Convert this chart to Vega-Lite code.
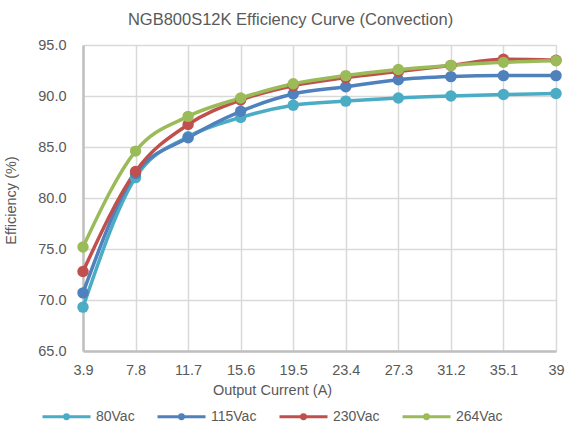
{
  "$schema": "https://vega.github.io/schema/vega-lite/v6.json",
  "autosize": {"type": "none"},
  "padding": {"left": 83, "top": 45, "right": 22, "bottom": 85},
  "width": 473,
  "height": 306,
  "background": "white",
  "title": {"text": "NGB800S12K Efficiency Curve (Convection)", "font": "Liberation Sans", "fontSize": 16.5, "fontWeight": "normal", "color": "#595959", "dx": -29, "offset": 9},
  "config": {"view": {"stroke": null}},
  "data": {"values": [
    {"I": 3.9, "E": 69.3, "V": "80Vac"}, {"I": 7.8, "E": 82.0, "V": "80Vac"}, {"I": 11.7, "E": 86.0, "V": "80Vac"}, {"I": 15.6, "E": 87.9, "V": "80Vac"}, {"I": 19.5, "E": 89.1, "V": "80Vac"}, {"I": 23.4, "E": 89.5, "V": "80Vac"}, {"I": 27.3, "E": 89.8, "V": "80Vac"}, {"I": 31.2, "E": 90.0, "V": "80Vac"}, {"I": 35.1, "E": 90.15, "V": "80Vac"}, {"I": 39, "E": 90.25, "V": "80Vac"},
    {"I": 3.9, "E": 70.7, "V": "115Vac"}, {"I": 7.8, "E": 82.4, "V": "115Vac"}, {"I": 11.7, "E": 85.9, "V": "115Vac"}, {"I": 15.6, "E": 88.5, "V": "115Vac"}, {"I": 19.5, "E": 90.2, "V": "115Vac"}, {"I": 23.4, "E": 90.9, "V": "115Vac"}, {"I": 27.3, "E": 91.6, "V": "115Vac"}, {"I": 31.2, "E": 91.9, "V": "115Vac"}, {"I": 35.1, "E": 92.0, "V": "115Vac"}, {"I": 39, "E": 92.0, "V": "115Vac"},
    {"I": 3.9, "E": 72.8, "V": "230Vac"}, {"I": 7.8, "E": 82.6, "V": "230Vac"}, {"I": 11.7, "E": 87.2, "V": "230Vac"}, {"I": 15.6, "E": 89.6, "V": "230Vac"}, {"I": 19.5, "E": 91.0, "V": "230Vac"}, {"I": 23.4, "E": 91.8, "V": "230Vac"}, {"I": 27.3, "E": 92.4, "V": "230Vac"}, {"I": 31.2, "E": 93.0, "V": "230Vac"}, {"I": 35.1, "E": 93.6, "V": "230Vac"}, {"I": 39, "E": 93.5, "V": "230Vac"},
    {"I": 3.9, "E": 75.2, "V": "264Vac"}, {"I": 7.8, "E": 84.6, "V": "264Vac"}, {"I": 11.7, "E": 88.0, "V": "264Vac"}, {"I": 15.6, "E": 89.8, "V": "264Vac"}, {"I": 19.5, "E": 91.2, "V": "264Vac"}, {"I": 23.4, "E": 92.0, "V": "264Vac"}, {"I": 27.3, "E": 92.6, "V": "264Vac"}, {"I": 31.2, "E": 93.0, "V": "264Vac"}, {"I": 35.1, "E": 93.3, "V": "264Vac"}, {"I": 39, "E": 93.45, "V": "264Vac"}
  ]},
  "encoding": {
    "x": {"field": "I", "type": "quantitative", "scale": {"domain": [3.9, 39], "nice": false, "zero": false},
      "axis": {"values": [3.9, 7.8, 11.7, 15.6, 19.5, 23.4, 27.3, 31.2, 35.1, 39], "labelExpr": "datum.value + ''", "title": "Output Current (A)",
        "labelFont": "Liberation Sans", "labelFontSize": 14.5, "labelColor": "#595959", "labelPadding": 12, "ticks": false,
        "titleFont": "Liberation Sans", "titleFontSize": 14.5, "titleFontWeight": "normal", "titleColor": "#595959", "titleX": 189, "titleY": 32, "titleBaseline": "top",
        "domainColor": "#bfbfbf", "domainWidth": 2.5, "gridColor": "#d9d9d9", "gridWidth": 1.5, "labelFlush": false}},
    "y": {"field": "E", "type": "quantitative", "scale": {"domain": [65, 95], "nice": false, "zero": false},
      "axis": {"values": [65, 70, 75, 80, 85, 90, 95], "format": ".1f", "title": "Efficiency (%)",
        "labelFont": "Liberation Sans", "labelFontSize": 14.5, "labelColor": "#595959", "labelPadding": 17, "ticks": false,
        "titleFont": "Liberation Sans", "titleFontSize": 14.5, "titleFontWeight": "normal", "titleColor": "#595959", "titleX": -65, "titleY": 155,
        "domainColor": "#bfbfbf", "domainWidth": 2.5, "gridColor": "#d9d9d9", "gridWidth": 1.5}},
    "color": {"field": "V", "type": "nominal", "sort": ["80Vac", "115Vac", "230Vac", "264Vac"],
      "scale": {"domain": ["80Vac", "115Vac", "230Vac", "264Vac"], "range": ["#4bacc6", "#4f81bd", "#c0504d", "#9bbb59"]},
      "legend": {"title": null, "orient": "none", "direction": "horizontal", "legendX": -42, "legendY": 346,
        "symbolType": "M-1,0H1M0.08,0A0.08,0.08 0 1 1 -0.08,0A0.08,0.08 0 1 1 0.08,0", "symbolSize": 2304, "symbolStrokeWidth": 3,
        "labelFont": "Liberation Sans", "labelFontSize": 14, "labelColor": "#595959", "labelOffset": 4, "columnPadding": 16,
        "encode": {"symbols": {"update": {"fill": {"scale": "color", "field": "value"}, "stroke": {"scale": "color", "field": "value"}, "strokeWidth": {"value": 3}, "opacity": {"value": 1}}}}}}
  },
  "layer": [
    {"mark": {"type": "line", "interpolate": "monotone", "strokeWidth": 3.5}},
    {"mark": {"type": "point", "filled": true, "size": 130, "opacity": 1}}
  ]
}
